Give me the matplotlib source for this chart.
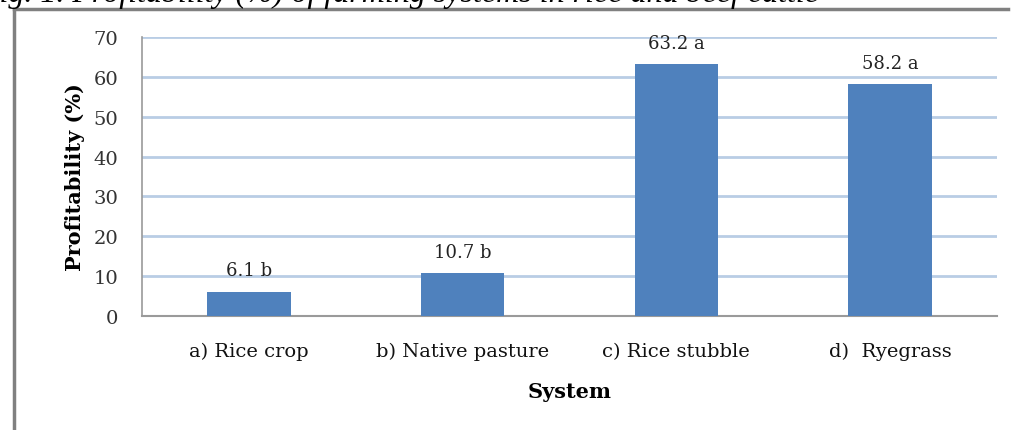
import matplotlib
matplotlib.use("Agg")
import matplotlib.pyplot as plt
from matplotlib.lines import Line2D

categories = ["a) Rice crop", "b) Native pasture", "c) Rice stubble", "d)  Ryegrass"]
values = [6.1, 10.7, 63.2, 58.2]
letters = ["b", "b", "a", "a"]
yticks = [0, 10, 20, 30, 40, 50, 60, 70]

W, H = 1014, 431
fig = plt.figure(figsize=(W / 100, H / 100), dpi=100)
ax = fig.add_axes([142 / W, 1 - 317 / H, (997 - 142) / W, (317 - 38) / H])

serif = ["DejaVu Serif", "Liberation Serif"]
bar_color = "#4f81bd"
grid_color = "#b9cde5"

x = list(range(len(categories)))
ax.bar(x, values, width=0.39, color=bar_color, zorder=3)
ax.set_xlim(-0.5, len(categories) - 0.5)
ax.set_ylim(0, 70)
ax.set_yticks(yticks)
ax.set_yticklabels([str(t) for t in yticks], fontsize=14, family=serif, color="#333333")
ax.set_xticks(x)
ax.set_xticklabels(categories, fontsize=14, family=serif, color="#111111")
for lab in ax.get_xticklabels():
    lab.set_verticalalignment("baseline")
ax.tick_params(axis="y", length=0, pad=17)
ax.tick_params(axis="x", length=0, pad=29)

ax.yaxis.grid(True, color=grid_color, lw=2, zorder=0)
ax.set_axisbelow(True)
for s in ["top", "right"]:
    ax.spines[s].set_visible(False)
ax.spines["left"].set_color("#9a9a9a")
ax.spines["bottom"].set_color("#9a9a9a")
ax.spines["left"].set_linewidth(1.2)
ax.spines["bottom"].set_linewidth(1.5)

for xi, v, l in zip(x, values, letters):
    ax.annotate(f"{v} {l}", (xi, v), xytext=(0, 9), textcoords="offset points",
                ha="center", va="bottom", fontsize=13, family=serif, color="#222222")

ax.set_ylabel("Profitability (%)", fontsize=15, family=serif, fontweight="bold", labelpad=6)
ax.set_xlabel("System", fontsize=15, family=serif, fontweight="bold", labelpad=15)

# frame of the embedded chart
fig.add_artist(Line2D([14 / W, 14 / W], [0, 1 - 10 / H], color="#808080", lw=2.5,
                      transform=fig.transFigure))
fig.add_artist(Line2D([14 / W, 1008 / W], [1 - 10 / H, 1 - 10 / H], color="#808080", lw=2.5,
                      transform=fig.transFigure))

# caption (cut off at the top of the image, as in the reference)
fig.text(-20 / W, 1 - 2 / H, "Fig. 1. Profitability (%) of farming systems in rice and beef cattle",
         fontsize=23, family=["Liberation Serif"], style="italic", va="baseline", ha="left")

fig.savefig("out.png", dpi=100)
